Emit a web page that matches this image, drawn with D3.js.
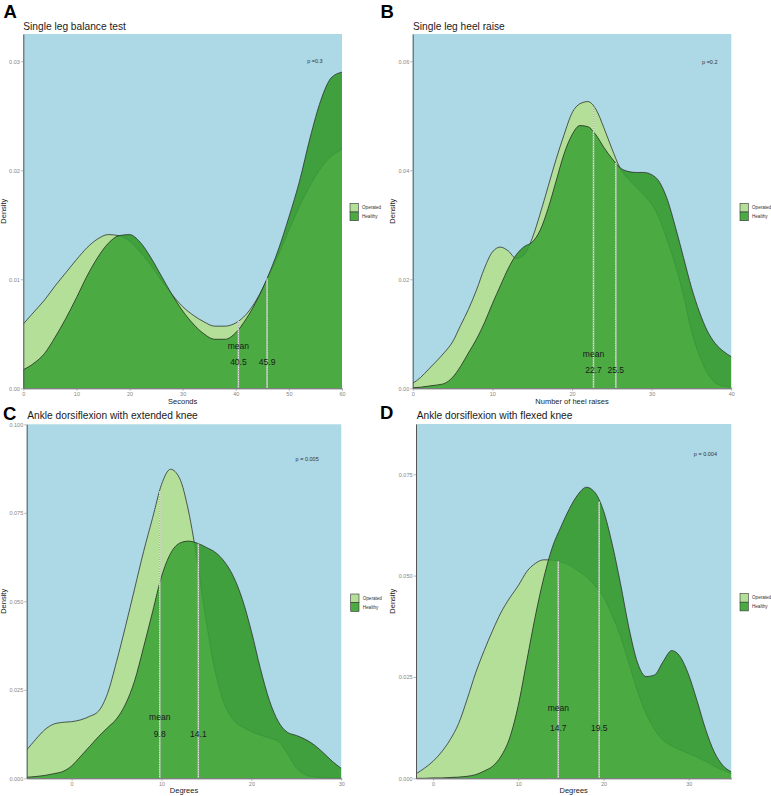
<!DOCTYPE html>
<html><head><meta charset="utf-8">
<script src="https://cdn.jsdelivr.net/npm/d3@7"></script>
<style>body{margin:0;background:#fff} svg{display:block} text{font-family:Arial,"Liberation Sans",sans-serif}</style>
</head><body><svg id="c" width="771" height="796"></svg>
<script>
// ---------------- DATA ----------------
const groups = ["Operated", "Healthy"];
const panelLetters = ["A", "B", "C", "D"];
const panelTitles = ["Single leg balance test", "Single leg heel raise", "Ankle dorsiflexion with extended knee", "Ankle dorsiflexion with flexed knee"];
const xTitles = ["Seconds", "Number of heel raises", "Degrees", "Degrees"];
const pLabels = ["p =0.3", "p =0.2", "p = 0.005", "p = 0.004"];
const meansOperated = [40.5, 22.7, 9.8, 14.7];
const meansHealthy = [45.9, 25.5, 14.1, 19.5];

// Panel A: single leg balance test (seconds)
const aX = [0,2,4,6,8,10,12,14,16,18,20,22,24,26,28,30,32,34,36,38,40,42,44,46,48,50,52,54,56,58,60];
const aOperated = [0.0059,0.0070,0.0081,0.0094,0.0106,0.0118,0.0129,0.0137,0.0141,0.0140,0.0135,0.0125,0.0113,0.0099,0.0086,0.0075,0.0067,0.0061,0.0057,0.0057,0.0060,0.0068,0.0082,0.0101,0.0122,0.0145,0.0167,0.0186,0.0202,0.0213,0.0219];
const aHealthy  = [0.0017,0.0023,0.0032,0.0047,0.0064,0.0083,0.0103,0.0120,0.0133,0.0140,0.0141,0.0134,0.0120,0.0103,0.0086,0.0071,0.0059,0.0050,0.0045,0.0045,0.0051,0.0064,0.0081,0.0102,0.0127,0.0157,0.0190,0.0230,0.0264,0.0285,0.0290];
const aXTicks = [0,10,20,30,40,50,60];
const aYTicks = [0,0.01,0.02,0.03];

// Panel B: single leg heel raise (number of heel raises)
const bX = [0,1,2,3,4,5,6,7,8,9,10,11,12,13,14,15,16,17,18,19,20,21,22,23,24,25,26,27,28,29,30,31,32,33,34,35,36,37,38,39,40];
const bOperated = [0.0009,0.0020,0.0035,0.0050,0.0066,0.0085,0.0115,0.0145,0.0180,0.0220,0.0250,0.0259,0.0252,0.0238,0.0245,0.0275,0.0320,0.0370,0.0420,0.0465,0.0505,0.0522,0.0526,0.0512,0.0478,0.0440,0.0405,0.0385,0.0370,0.0355,0.0338,0.0310,0.0270,0.0225,0.0170,0.0105,0.0060,0.0028,0.0010,0.0004,0.0002];
const bHealthy  = [0.0001,0.0002,0.0004,0.0006,0.0009,0.0020,0.0040,0.0065,0.0090,0.0120,0.0155,0.0188,0.0220,0.0245,0.0260,0.0268,0.0290,0.0330,0.0380,0.0430,0.0465,0.0482,0.0480,0.0465,0.0442,0.0422,0.0405,0.0398,0.0396,0.0396,0.0392,0.0378,0.0345,0.0295,0.0240,0.0185,0.0140,0.0105,0.0082,0.0068,0.0058];
const bXTicks = [0,10,20,30,40];
const bYTicks = [0,0.02,0.04,0.06];

// Panel C: ankle dorsiflexion, extended knee (degrees)
const cX = [-5,-4,-3,-2,-1,0,1,2,3,4,5,6,7,8,9,10,11,12,13,14,15,16,17,18,19,20,21,22,23,24,25,26,27,28,29,30];
const cOperated = [0.0080,0.0110,0.0137,0.0153,0.0158,0.0160,0.0165,0.0175,0.0190,0.0240,0.0330,0.0430,0.0535,0.0640,0.0735,0.0830,0.0873,0.0848,0.0755,0.0610,0.0440,0.0298,0.0210,0.0165,0.0145,0.0132,0.0122,0.0114,0.0104,0.0070,0.0030,0.0010,0.0004,0.0002,0.0001,0.0000];
const cHealthy  = [0.0003,0.0005,0.0008,0.0013,0.0019,0.0035,0.0062,0.0090,0.0118,0.0143,0.0168,0.0210,0.0275,0.0370,0.0470,0.0570,0.0635,0.0664,0.0670,0.0664,0.0652,0.0638,0.0612,0.0570,0.0505,0.0415,0.0310,0.0220,0.0160,0.0130,0.0121,0.0110,0.0094,0.0072,0.0048,0.0028];
const cXTicks = [0,10,20,30];
const cYTicks = [0,0.025,0.05,0.075,0.1];

// Panel D: ankle dorsiflexion, flexed knee (degrees)
const dX = [-2,-1,0,1,2,3,4,5,6,7,8,9,10,11,12,13,14,15,16,17,18,19,20,21,22,23,24,25,26,27,28,29,30,31,32,33,34,35];
const dOperated = [0.0011,0.0025,0.0042,0.0065,0.0095,0.0135,0.0195,0.0260,0.0315,0.0365,0.0410,0.0445,0.0475,0.0510,0.0530,0.0539,0.0538,0.0534,0.0526,0.0512,0.0497,0.0475,0.0448,0.0403,0.0350,0.0283,0.0215,0.0160,0.0120,0.0094,0.0080,0.0070,0.0061,0.0052,0.0042,0.0030,0.0020,0.0012];
const dHealthy  = [0.0000,0.0000,0.0001,0.0001,0.0002,0.0003,0.0005,0.0009,0.0018,0.0030,0.0055,0.0100,0.0180,0.0290,0.0400,0.0495,0.0570,0.0620,0.0665,0.0700,0.0718,0.0705,0.0660,0.0580,0.0480,0.0370,0.0285,0.0251,0.0255,0.0288,0.0315,0.0300,0.0255,0.0190,0.0120,0.0065,0.0032,0.0016];
const dXTicks = [0,10,20,30];
const dYTicks = [0,0.025,0.05,0.075];

// ---------------- LAYOUT / STYLE ----------------
const BG = "#add8e6", OPC = "#b4df98", HEC = "#40a03e", OVC = "#4caa42", STROKE = "#2a2a2a";
const layout = [
  {l:23.3, r:342, t:34, b:388.3, xd:[0,60], yd:[0,0.0325], yFmt:".2f", pPos:[54.9,0.0300], meanY:0.0039, valY:0.0024, leg:[350,203.3], tXY:[23.3,29.7], letXY:[3.5,18.3], yTX:5.5, xTY:404},
  {l:412.7, r:731.3, t:34, b:388.3, xd:[0,40], yd:[0,0.065], yFmt:".2f", pPos:[37.3,0.0599], meanY:0.0063, valY:0.0034, leg:[740,203.3], tXY:[413,29.7], letXY:[380.5,18.3], yTX:395, xTY:404},
  {l:26.7, r:341.3, t:424.3, b:778.3, xd:[-5,30], yd:[0,0.1], yFmt:".3f", pPos:[26.2,0.0901], meanY:0.0174, valY:0.0125, leg:[350.7,594], tXY:[27.3,419], letXY:[3,419.5], yTX:5.5, xTY:793},
  {l:416, r:731.3, t:424, b:778.3, xd:[-2,35], yd:[0,0.0874], yFmt:".3f", pPos:[31.96,0.0800], meanY:0.0174, valY:0.0123, leg:[740,593.5], tXY:[416.7,419], letXY:[380,418.5], yTX:395, xTY:793}
];
const panelData = [
  {x:aX, op:aOperated, he:aHealthy, xt:aXTicks, yt:aYTicks},
  {x:bX, op:bOperated, he:bHealthy, xt:bXTicks, yt:bYTicks},
  {x:cX, op:cOperated, he:cHealthy, xt:cXTicks, yt:cYTicks},
  {x:dX, op:dOperated, he:dHealthy, xt:dXTicks, yt:dYTicks}
];

const svg = d3.select("#c");
const defs = svg.append("defs");

function interp(xs, ys, v){
  const i = d3.bisectLeft(xs, v);
  if (i <= 0) return ys[0];
  if (i >= xs.length) return ys[ys.length-1];
  const t = (v - xs[i-1]) / (xs[i] - xs[i-1]);
  return ys[i-1] + t * (ys[i] - ys[i-1]);
}

panelData.forEach((p, i) => {
  const L = layout[i];
  const x = d3.scaleLinear().domain(L.xd).range([L.l, L.r]);
  const y = d3.scaleLinear().domain(L.yd).range([L.b, L.t]);
  const g = svg.append("g");
  const pts = ys => p.x.map((xv,k) => [xv, ys[k]]);
  const area = d3.area().x(d=>x(d[0])).y0(y(0)).y1(d=>y(d[1])).curve(d3.curveMonotoneX);
  const line = d3.line().x(d=>x(d[0])).y(d=>y(d[1])).curve(d3.curveMonotoneX);

  defs.append("clipPath").attr("id","pc"+i).append("rect")
    .attr("x",L.l).attr("y",L.t).attr("width",L.r-L.l).attr("height",L.b-L.t);
  defs.append("clipPath").attr("id","hc"+i).append("path").attr("d", area(pts(p.he)));

  g.append("rect").attr("x",L.l).attr("y",L.t).attr("width",L.r-L.l).attr("height",L.b-L.t).attr("fill",BG);
  const cg = g.append("g").attr("clip-path",`url(#pc${i})`);
  cg.append("path").attr("d", area(pts(p.op))).attr("fill", OPC);
  cg.append("path").attr("d", line(pts(p.op))).attr("fill","none").attr("stroke",STROKE).attr("stroke-width",0.75);
  cg.append("path").attr("d", area(pts(p.he))).attr("fill", HEC);
  cg.append("path").attr("d", area(pts(p.op))).attr("fill", OVC).attr("clip-path",`url(#hc${i})`);
  cg.append("path").attr("d", line(pts(p.op))).attr("fill","none").attr("stroke","#37923a").attr("stroke-width",0.7).attr("clip-path",`url(#hc${i})`);
  cg.append("path").attr("d", line(pts(p.he))).attr("fill","none").attr("stroke",STROKE).attr("stroke-width",0.75);

  // mean lines (dotted grey)
  [[meansOperated[i], p.op], [meansHealthy[i], p.he]].forEach(([m, ys]) => {
    const yTop = y(interp(p.x, ys, m));
    cg.append("line").attr("x1",x(m)).attr("x2",x(m)).attr("y1",y(0)).attr("y2",yTop)
      .attr("stroke","#e6e6e6").attr("stroke-width",1.3);
    cg.append("line").attr("x1",x(m)).attr("x2",x(m)).attr("y1",y(0)).attr("y2",yTop)
      .attr("stroke","#a8a8a8").attr("stroke-width",1.3).attr("stroke-dasharray","1.2,1.2");
  });
  g.append("text").attr("x",x(meansOperated[i])).attr("y",y(L.meanY)).attr("dy","0.35em").attr("text-anchor","middle")
    .attr("font-size",8.5).attr("fill","#1a1a1a").text("mean");
  [meansOperated[i], meansHealthy[i]].forEach(m => {
    g.append("text").attr("x",x(m)).attr("y",y(L.valY)).attr("dy","0.35em").attr("text-anchor","middle")
      .attr("font-size",8.5).attr("fill","#1a1a1a").text(m.toFixed(1));
  });
  // p value
  g.append("text").attr("x",x(L.pPos[0])).attr("y",y(L.pPos[1])).attr("dy","0.35em").attr("text-anchor","middle")
    .attr("font-size",5.5).attr("fill","#333").text(pLabels[i]);

  // axes
  const xa = g.append("g").attr("transform",`translate(0,${L.b})`)
    .call(d3.axisBottom(x).tickValues(p.xt).tickSize(2.5).tickSizeOuter(0).tickPadding(1.5).tickFormat(d3.format("d")));
  const ya = g.append("g").attr("transform",`translate(${L.l},0)`)
    .call(d3.axisLeft(y).tickValues(p.yt).tickSize(2.5).tickSizeOuter(0).tickPadding(1).tickFormat(d3.format(L.yFmt)));
  [xa, ya].forEach(a => {
    a.attr("font-size",null).attr("font-family",null);
    a.select(".domain").attr("stroke","#555").attr("stroke-width",1);
    a.selectAll(".tick line").attr("stroke","#888").attr("stroke-width",0.6);
    a.selectAll(".tick text").attr("fill","#858585").attr("font-size",5.5);
  });

  // titles
  g.append("text").attr("x",L.letXY[0]).attr("y",L.letXY[1]).attr("font-size",18.5).attr("font-weight","bold").attr("fill","#000").text(panelLetters[i]);
  g.append("text").attr("x",L.tXY[0]).attr("y",L.tXY[1]).attr("font-size",10.2).attr("fill","#1a1a1a").text(panelTitles[i]);
  g.append("text").attr("x",(L.l+L.r)/2).attr("y",L.xTY).attr("text-anchor","middle").attr("font-size",7.5).attr("fill","#222").text(xTitles[i]);
  g.append("text").attr("transform",`translate(${L.yTX},${(L.t+L.b)/2}) rotate(-90)`).attr("text-anchor","middle")
    .attr("font-size",7.5).attr("fill","#222").text("Density");

  // legend
  const lg = g.append("g").attr("transform",`translate(${L.leg[0]},${L.leg[1]})`);
  groups.forEach((name, k) => {
    lg.append("rect").attr("x",0).attr("y",k*8.7).attr("width",8.3).attr("height",8.7)
      .attr("fill", k===0 ? OPC : OVC).attr("stroke","#333").attr("stroke-width",0.6);
    lg.append("text").attr("x",12).attr("y",k*8.7+4.35).attr("dy","0.35em").attr("font-size",4.6).attr("fill","#333").text(name);
  });
});
</script></body></html>
